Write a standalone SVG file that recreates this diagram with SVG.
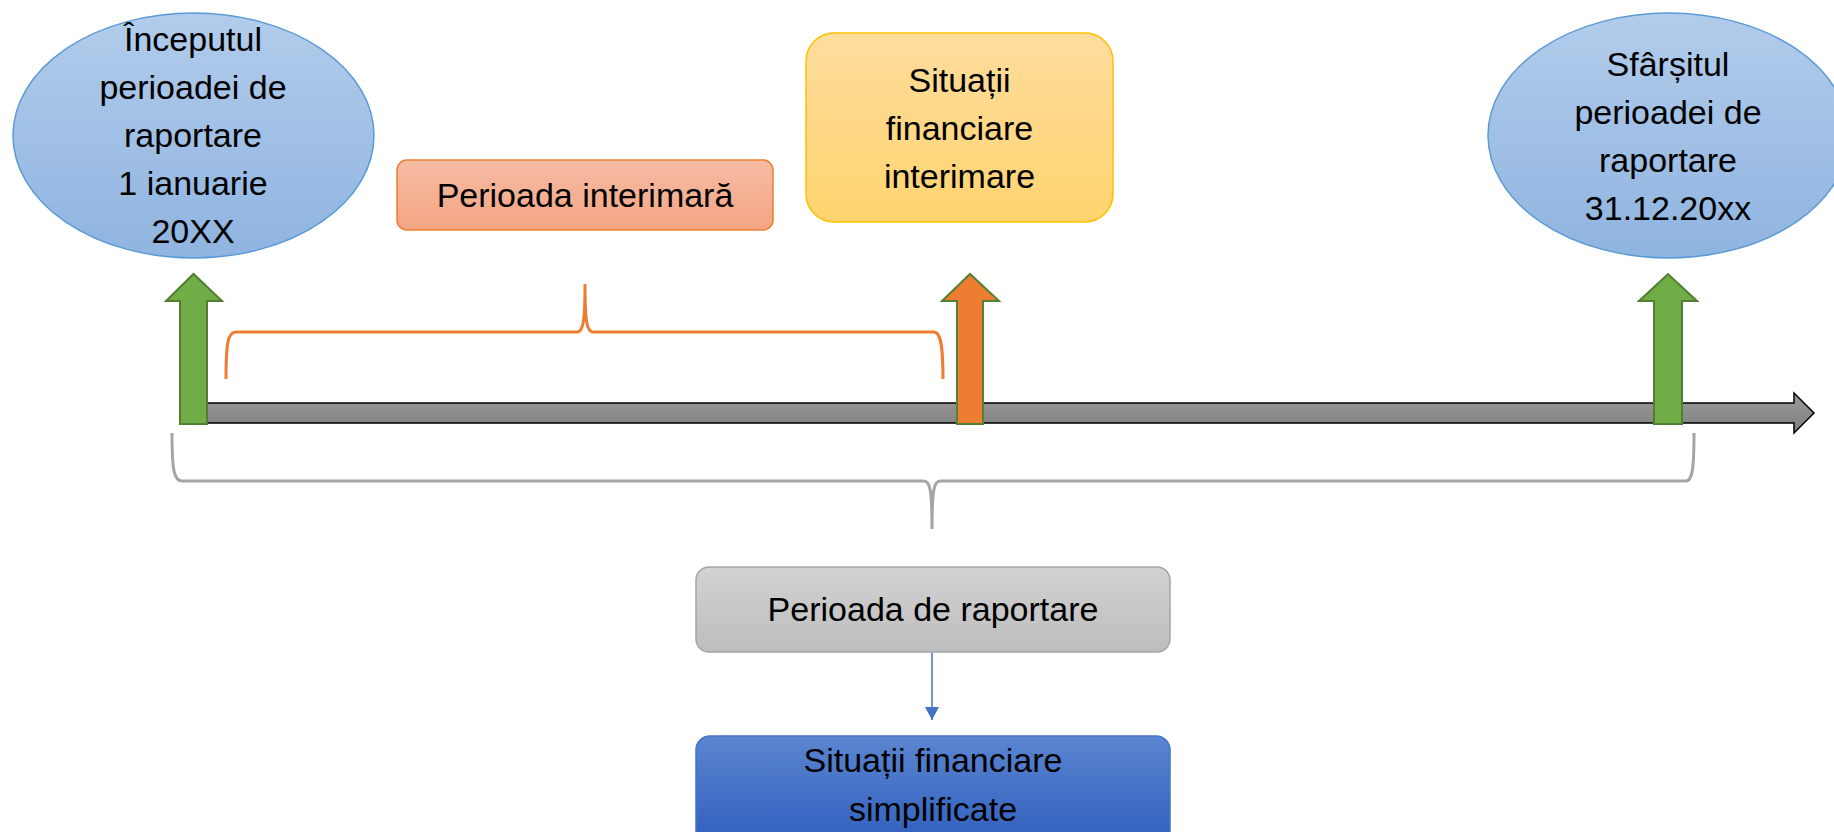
<svg xmlns="http://www.w3.org/2000/svg" width="1834" height="832" viewBox="0 0 1834 832">
<defs>
<linearGradient id="gBlueL" x1="0" y1="0" x2="0" y2="1"><stop offset="0" stop-color="#b2cceb"/><stop offset="1" stop-color="#8fb4e0"/></linearGradient>
<linearGradient id="gSalmon" x1="0" y1="0" x2="0" y2="1"><stop offset="0" stop-color="#f5bca4"/><stop offset="1" stop-color="#f4a482"/></linearGradient>
<linearGradient id="gYellow" x1="0" y1="0" x2="0" y2="1"><stop offset="0" stop-color="#fedc9d"/><stop offset="1" stop-color="#ffd46f"/></linearGradient>
<linearGradient id="gGray" x1="0" y1="0" x2="0" y2="1"><stop offset="0" stop-color="#d2d2d2"/><stop offset="1" stop-color="#bdbdbd"/></linearGradient>
<linearGradient id="gBlue" x1="0" y1="0" x2="0" y2="1"><stop offset="0" stop-color="#5b85d0"/><stop offset="1" stop-color="#2f5fbe"/></linearGradient>
<linearGradient id="gLine" x1="0" y1="0" x2="0" y2="1"><stop offset="0" stop-color="#9c9c9c"/><stop offset="1" stop-color="#7d7d7d"/></linearGradient>
<marker id="arr" markerWidth="14" markerHeight="14" refX="13" refY="7" orient="auto" markerUnits="userSpaceOnUse" viewBox="0 0 14 14">
<path d="M0,0 L13,7 L0,14 z" fill="#4472c4"/>
</marker>
</defs>
<style>
text{font-family:"Liberation Sans",Arial,sans-serif;font-size:34px;fill:#000;text-anchor:middle}
.ell{fill:url(#gBlueL);stroke:#5b9bd5;stroke-width:1.5}
.garrow{fill:#70ad47;stroke:#507e32;stroke-width:2}
.oarrow{fill:#ed7d31;stroke:#538135;stroke-width:2}
.brace{fill:none;stroke-width:3}
</style>

<g id="timeline">
<path d="M180,403 L1794,403 L1794,393 L1814,413 L1794,433 L1794,423 L180,423 Z" fill="url(#gLine)" stroke="#000" stroke-width="1.5"/>
</g>

<g id="connectors">
<path class="brace" stroke="#ed7d31" d="M226,379 C226,342 228,332 236,332 L577,332 C583,332 585,322 585,284 C585,322 587,332 593,332 L934,332 C940,332 943,342 943,379"/>
<path class="brace" stroke="#a5a5a5" d="M172,433 C172,470 174,481 182,481 L924,481 C930,481 932,490 932,529 C932,490 934,481 940,481 L1686,481 C1692,481 1694,470 1694,433"/>
<line x1="932" y1="652" x2="932" y2="720" stroke="#4472c4" stroke-width="1.5" marker-end="url(#arr)"/>
</g>

<g id="arrow-start">
<path class="garrow" d="M180,424 L180,301 L166,301 L193.5,274 L222,301 L207,301 L207,424 Z"/>
</g>
<g id="arrow-interim">
<path class="oarrow" d="M957,424 L957,301 L942,301 L970,274 L999,301 L983,301 L983,424 Z"/>
</g>
<g id="arrow-end">
<path class="garrow" d="M1654,424 L1654,301 L1639,301 L1668,274 L1697,301 L1682,301 L1682,424 Z"/>
</g>

<g id="node-start">
<ellipse class="ell" cx="193.5" cy="135.5" rx="180.5" ry="122.5"/>
<text x="193" y="51">Începutul</text>
<text x="193" y="99">perioadei de</text>
<text x="193" y="147">raportare</text>
<text x="193" y="195">1 ianuarie</text>
<text x="193" y="243">20XX</text>
</g>

<g id="node-interim-period">
<rect x="397" y="160" width="376" height="70" rx="10" fill="url(#gSalmon)" stroke="#ed7d31" stroke-width="1.5"/>
<text x="585" y="207">Perioada interimară</text>
</g>

<g id="node-interim-statements">
<rect x="806" y="33" width="307" height="189" rx="28" fill="url(#gYellow)" stroke="#ffc000" stroke-width="1.5"/>
<text x="959.5" y="92">Situații</text>
<text x="959.5" y="140">financiare</text>
<text x="959.5" y="188">interimare</text>
</g>

<g id="node-end">
<ellipse class="ell" cx="1668.5" cy="135.5" rx="180.5" ry="122.5"/>
<text x="1668" y="76">Sfârșitul</text>
<text x="1668" y="124">perioadei de</text>
<text x="1668" y="172">raportare</text>
<text x="1668" y="220">31.12.20xx</text>
</g>

<g id="node-reporting-period">
<rect x="696" y="567" width="474" height="85" rx="13" fill="url(#gGray)" stroke="#a5a5a5" stroke-width="1.5"/>
<text x="933" y="621">Perioada de raportare</text>
</g>

<g id="node-simplified">
<rect x="696" y="736" width="474" height="110" rx="14" fill="url(#gBlue)" stroke="#4472c4" stroke-width="1.5"/>
<text x="933" y="772">Situații financiare</text>
<text x="933" y="821">simplificate</text>
</g>
</svg>
